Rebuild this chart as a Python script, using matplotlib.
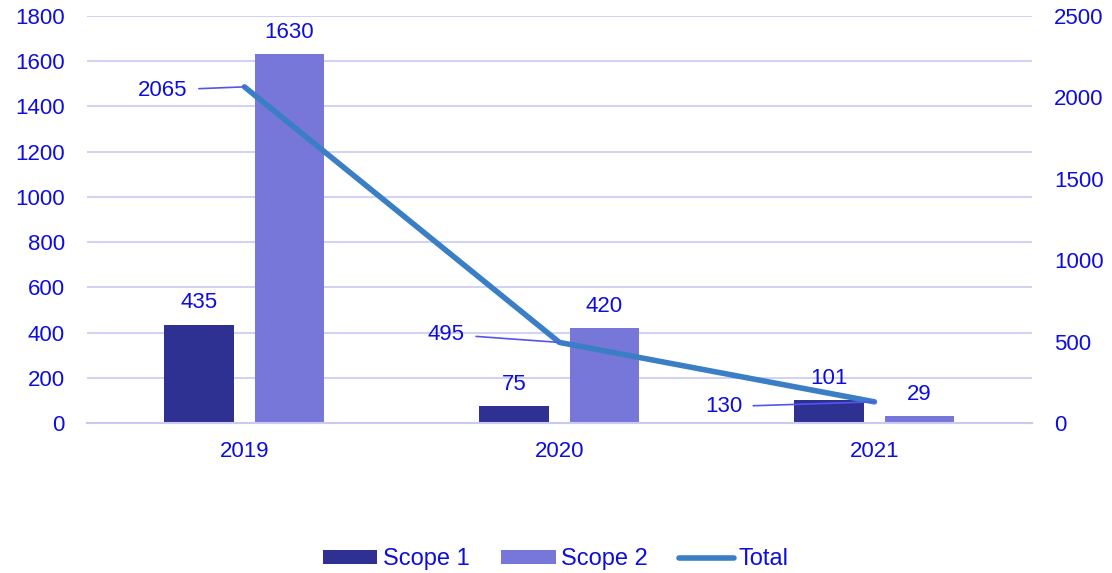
import matplotlib
matplotlib.use("Agg")
import matplotlib.pyplot as plt
import numpy as np

plt.rcParams['font.family'] = ['Liberation Sans', 'DejaVu Sans']

years = ['2019', '2020', '2021']
scope1 = [435, 75, 101]
scope2 = [1630, 420, 29]
total = [2065, 495, 130]

txt = '#0D0DE0'
c1 = '#2E3192'
c2 = '#7777D9'
cl = '#3A7EC6'
grid = '#C9C9F2'
fs = 16

fig = plt.figure(figsize=(11.12, 5.73), dpi=100)
ax = fig.add_axes([0.0782, 0.2618, 0.8498, 0.7102])
ax2 = ax.twinx()

x = np.arange(len(years))
w = 0.222
off = 0.143
b1 = ax.bar(x - off, scope1, w, color=c1, label='Scope 1', zorder=2)
b2 = ax.bar(x + off, scope2, w, color=c2, label='Scope 2', zorder=2)

for xi, v in zip(x - off, scope1):
    ax.text(xi, v + 50, str(v), ha='center', va='bottom', fontsize=fs, color=txt)
for xi, v in zip(x + off, scope2):
    ax.text(xi, v + 50, str(v), ha='center', va='bottom', fontsize=fs, color=txt)

ax.set_xlim(-0.5, 2.5)
ax.set_ylim(0, 1800)
ax.set_yticks(np.arange(0, 1801, 200))
ax.set_xticks(x)
ax.set_xticklabels(years)
ax.grid(axis='y', color=grid, linewidth=1.2, zorder=0)
ax.set_axisbelow(True)
for s in ['top', 'left', 'right']:
    ax.spines[s].set_visible(False)
ax.spines['bottom'].set_color(grid)
ax.spines['bottom'].set_linewidth(1.5)
ax.tick_params(axis='both', length=0, labelsize=fs, labelcolor=txt)
ax.tick_params(axis='y', pad=16)
ax.tick_params(axis='x', pad=13)

ln, = ax2.plot(x, total, color=cl, linewidth=4, label='Total', zorder=3,
               solid_capstyle='round')
ax2.set_ylim(0, 2500)
ax2.set_yticks(np.arange(0, 2501, 500))
for s in ['top', 'left', 'right', 'bottom']:
    ax2.spines[s].set_visible(False)
ax2.tick_params(axis='y', length=0, labelsize=fs, labelcolor=txt, pad=16)

# leader-line labels for Total
lab_pos = [(-0.18, 2045), (0.70, 545), (1.58, 100)]
for xi, v, (lx, ly) in zip(x, total, lab_pos):
    ax2.annotate(str(v), xy=(xi, v), xytext=(lx, ly), textcoords='data',
                 ha='right', va='center', fontsize=fs, color=txt,
                 arrowprops=dict(arrowstyle='-', color='#5555EE', lw=1.2,
                                 shrinkA=6, shrinkB=0))

fig.legend([b1, b2, ln], ['Scope 1', 'Scope 2', 'Total'], loc='center',
           bbox_to_anchor=(0.5, 0.024), ncol=3, frameon=False, fontsize=17,
           labelcolor=txt, handlelength=2.3, handleheight=0.5,
           handletextpad=0.22, columnspacing=1.35)

fig.savefig('out.png', dpi=100)
